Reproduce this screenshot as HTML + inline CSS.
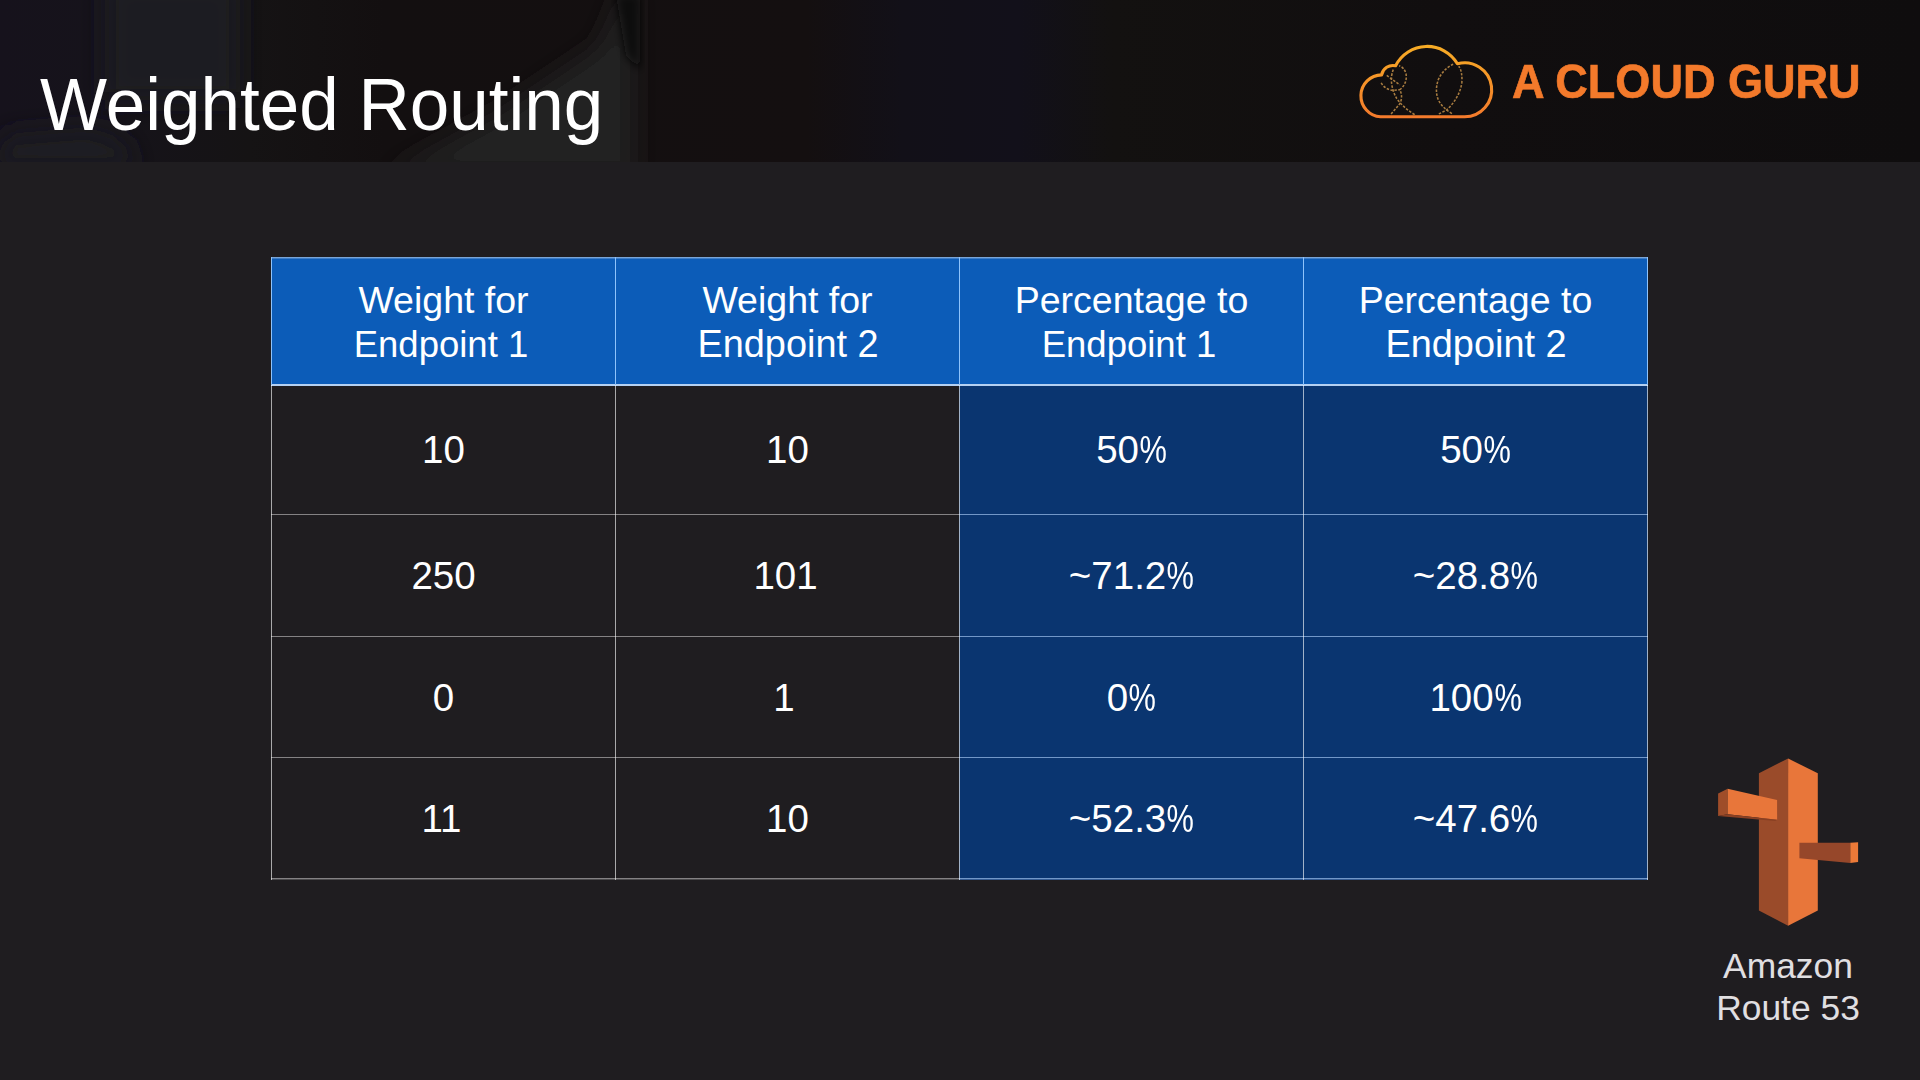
<!DOCTYPE html>
<html lang="en">
<head>
<meta charset="utf-8">
<title>Weighted Routing</title>
<style>
*{margin:0;padding:0;box-sizing:border-box}
html,body{width:1920px;height:1080px;overflow:hidden;background:#1f1d20}
body{position:relative;font-family:"Liberation Sans",sans-serif;color:#fff}
#hdr{position:absolute;left:0;top:0;width:1920px;height:162px;overflow:hidden;background:#130f10}
#title{position:absolute;left:40px;top:62px;font-size:74.3px;line-height:86px;white-space:nowrap;color:#fff;transform-origin:0 50%;transform:scaleX(.956)}
#brand{position:absolute;left:1512px;top:54px;font-size:48px;line-height:56px;font-weight:bold;color:#f47a2b;-webkit-text-stroke:.7px #f47a2b;white-space:nowrap;transform-origin:0 50%;transform:scaleX(.938)}
#art{position:absolute;left:0;top:0;width:1920px;height:1080px;pointer-events:none}
#tbl{position:absolute;left:271px;top:257px;width:1377px;height:623px}
.cell{position:absolute;display:flex;align-items:center;justify-content:center;text-align:center;font-size:38.5px;line-height:44px;color:#fff;white-space:nowrap}
.h{background:#0c5cb8}
.t{position:relative}
.h .t{display:block;line-height:43.7px}
.l1{font-size:37.5px;position:relative;top:1px}
.l2{font-size:36.5px;position:relative;left:-2.5px}
.l2.b2{font-size:37.9px;left:.5px}
.s{position:relative}
.d{background:#1f1d20}
.b{background:#0a3570}
.p{display:inline-block;transform:scaleX(.8);margin:0 -3.2px}
.vl{position:absolute;top:0;width:1px;height:622.5px;background:rgba(255,255,255,.62)}
.hl{position:absolute;left:0;width:1377px;height:1px;background:rgba(255,255,255,.45)}
.hl.hh{background:#b4d0f2}
.hl.f{background:rgba(255,255,255,.2)}
.hl.n{background:#7297c8}
.hl.n.f{background:rgba(114,151,200,.4)}
.vl.vh{height:128px;background:#8fc3fb}
#lbl{position:absolute;left:1688px;top:945px;width:200px;text-align:center;font-size:35.4px;line-height:42px;color:#e0dfe1}
</style>
</head>
<body>
<div id="hdr">
  <svg id="hbg" width="1920" height="162" viewBox="0 0 1920 162" style="position:absolute;left:0;top:0">
    <defs>
      <filter id="bl" x="-20%" y="-50%" width="140%" height="200%"><feGaussianBlur stdDeviation="12"/></filter>
      <filter id="bl2" x="-20%" y="-50%" width="140%" height="200%"><feGaussianBlur stdDeviation="4"/></filter>
      <linearGradient id="hg" x1="0" y1="0" x2="1920" y2="0" gradientUnits="userSpaceOnUse">
        <stop offset="0" stop-color="#16121c"/><stop offset=".05" stop-color="#16131b"/><stop offset=".13" stop-color="#151314"/>
        <stop offset=".2" stop-color="#130f10"/><stop offset=".42" stop-color="#140f10"/><stop offset=".47" stop-color="#121018"/>
        <stop offset=".53" stop-color="#12101a"/><stop offset=".58" stop-color="#131110"/><stop offset=".75" stop-color="#110e0f"/><stop offset="1" stop-color="#0f0d0e"/>
      </linearGradient>
    </defs>
    <rect width="1920" height="162" fill="url(#hg)"/>
    <g filter="url(#bl)">
      <rect x="105" y="-20" width="135" height="120" fill="#1b1e21"/>
      <polygon points="-10,170 5,134 90,127 125,140 138,170" fill="#1d1b20"/>
      <polygon points="385,175 500,112 600,45 622,-10 634,-10 634,175" fill="#242224"/>
    </g>
    <g filter="url(#bl2)">
      <polygon points="616,-5 640,-5 640,70 626,55" fill="#110e0f"/>
    </g>
  </svg>
  <div id="title">Weighted Routing</div>
  <div id="brand">A CLOUD GURU</div>
</div>
<div id="tbl">
<div class="cell h" style="left:0px;top:0px;width:345px;height:129px"><span class="t" style="left:0px;top:0.5px"><span class="l1">Weight for</span><br><span class="l2">Endpoint 1</span></span></div>
<div class="cell h" style="left:344px;top:0px;width:345px;height:129px"><span class="t" style="left:0px;top:0.5px"><span class="l1">Weight for</span><br><span class="l2 b2">Endpoint 2</span></span></div>
<div class="cell h" style="left:688px;top:0px;width:345px;height:129px"><span class="t" style="left:0px;top:0.5px"><span class="l1">Percentage to</span><br><span class="l2">Endpoint 1</span></span></div>
<div class="cell h" style="left:1032px;top:0px;width:345px;height:129px"><span class="t" style="left:0px;top:0.5px"><span class="l1">Percentage to</span><br><span class="l2 b2">Endpoint 2</span></span></div>
<div class="cell d" style="left:0px;top:129px;width:345px;height:128px"><span class="t">10</span></div>
<div class="cell d" style="left:344px;top:129px;width:345px;height:128px"><span class="t">10</span></div>
<div class="cell b" style="left:688px;top:129px;width:345px;height:128px"><span class="t">50<span class="p">%</span></span></div>
<div class="cell b" style="left:1032px;top:129px;width:345px;height:128px"><span class="t">50<span class="p">%</span></span></div>
<div class="cell d" style="left:0px;top:258px;width:345px;height:121px"><span class="t">250</span></div>
<div class="cell d" style="left:344px;top:258px;width:345px;height:121px"><span class="t" style="left:-2px;top:0px">101</span></div>
<div class="cell b" style="left:688px;top:258px;width:345px;height:121px"><span class="t">~71.2<span class="p">%</span></span></div>
<div class="cell b" style="left:1032px;top:258px;width:345px;height:121px"><span class="t">~28.8<span class="p">%</span></span></div>
<div class="cell d" style="left:0px;top:380px;width:345px;height:120px"><span class="t" style="left:0px;top:1px">0</span></div>
<div class="cell d" style="left:344px;top:380px;width:345px;height:120px"><span class="t" style="left:-3.5px;top:1px">1</span></div>
<div class="cell b" style="left:688px;top:380px;width:345px;height:120px"><span class="t" style="left:0px;top:1px">0<span class="p">%</span></span></div>
<div class="cell b" style="left:1032px;top:380px;width:345px;height:120px"><span class="t" style="left:0px;top:1px">100<span class="p">%</span></span></div>
<div class="cell d" style="left:0px;top:501px;width:345px;height:122px"><span class="t" style="left:-2px;top:0px">11</span></div>
<div class="cell d" style="left:344px;top:501px;width:345px;height:122px"><span class="t">10</span></div>
<div class="cell b" style="left:688px;top:501px;width:345px;height:122px"><span class="t">~52.3<span class="p">%</span></span></div>
<div class="cell b" style="left:1032px;top:501px;width:345px;height:122px"><span class="t">~47.6<span class="p">%</span></span></div>
<div class="hl" style="top:0px;height:1px"></div>
<div class="hl f" style="top:1px;height:1px"></div>
<div class="hl hh" style="top:127px;height:2px"></div>
<div class="hl" style="top:257px;height:1px;width:688px"></div>
<div class="hl n" style="top:257px;height:1px;left:688px;width:689px"></div>
<div class="hl" style="top:379px;height:1px;width:688px"></div>
<div class="hl n" style="top:379px;height:1px;left:688px;width:689px"></div>
<div class="hl" style="top:500px;height:1px;width:688px"></div>
<div class="hl n" style="top:500px;height:1px;left:688px;width:689px"></div>
<div class="hl" style="top:621px;height:1px;width:688px"></div>
<div class="hl n" style="top:621px;height:1px;left:688px;width:689px"></div>
<div class="hl f" style="top:622px;height:1px;width:688px"></div>
<div class="hl f n" style="top:622px;height:1px;left:688px;width:689px"></div>
<div class="vl" style="left:0px"></div>
<div class="vl vh" style="left:0px"></div>
<div class="vl" style="left:344px"></div>
<div class="vl vh" style="left:344px"></div>
<div class="vl" style="left:688px"></div>
<div class="vl vh" style="left:688px"></div>
<div class="vl" style="left:1032px"></div>
<div class="vl vh" style="left:1032px"></div>
<div class="vl" style="left:1376px"></div>
<div class="vl vh" style="left:1376px"></div>
</div>
<svg id="art" width="1920" height="1080" viewBox="0 0 1920 1080">
  <defs>
    <linearGradient id="cg" x1="0" y1="44" x2="0" y2="118" gradientUnits="userSpaceOnUse">
      <stop offset="0" stop-color="#f7ad25"/>
      <stop offset="1" stop-color="#f47a2c"/>
    </linearGradient>
  </defs>
  <!-- cloud outline -->
  <path d="M1380.5 116.8 A21 21 0 0 1 1381.6 74.85 A11.5 11.5 0 0 1 1395.6 65.8 A35.2 35.2 0 0 1 1457.4 63.8 A27 27 0 1 1 1464.7 116.8 Z" fill="none" stroke="url(#cg)" stroke-width="3.1" stroke-linejoin="round"/>
  <!-- dashed figures inside cloud -->
  <g transform="translate(1370 55) scale(0.06203)" fill="none" stroke="#a87c40" stroke-width="25" stroke-dasharray="40 24">
    <path d="M340 950 L470 800 C520 720 520 640 480 560 C560 500 600 400 580 300 C560 230 520 190 470 175"/>
    <path d="M720 960 C600 890 500 800 430 700 C370 600 330 450 350 330 C360 270 370 240 385 225"/>
    <path d="M270 330 L480 480"/>
    <path d="M180 450 C220 520 300 570 370 570 L480 560"/>
    <path d="M1110 950 L1230 890 C1350 780 1450 640 1480 450 C1490 330 1470 230 1430 180"/>
    <path d="M1340 150 C1250 190 1150 280 1100 400 C1060 520 1060 640 1110 740 C1150 820 1230 890 1330 950"/>
  </g>
  <!-- Amazon Route 53 icon -->
  <g>
    <polygon points="1758.9,773.3 1788.1,758.5 1788.1,925.7 1758.9,910.4" fill="#9a4b2a"/>
    <polygon points="1788.1,758.5 1817.8,773.3 1817.8,910.4 1788.1,925.7" fill="#e8763a"/>
    <polygon points="1718.1,793.4 1727.6,788.8 1727.6,814.3 1718.1,816.1" fill="#9f4d29"/>
    <polygon points="1727.6,788.8 1777.1,800.1 1777.1,819.8 1727.6,814.3" fill="#e8763a"/>
    <polygon points="1718.1,816.1 1727.6,814.3 1777.1,819.8 1775.3,820.9" fill="#8a4023"/>
    <polygon points="1799.4,842.7 1850.3,842.7 1850.3,863.1 1799.4,858.2" fill="#96472a"/>
    <polygon points="1850.3,842.7 1858.1,842.3 1858.1,861.9 1850.3,863.1" fill="#ec7a38"/>
  </g>
</svg>
<div id="lbl">Amazon<br>Route 53</div>
</body>
</html>
